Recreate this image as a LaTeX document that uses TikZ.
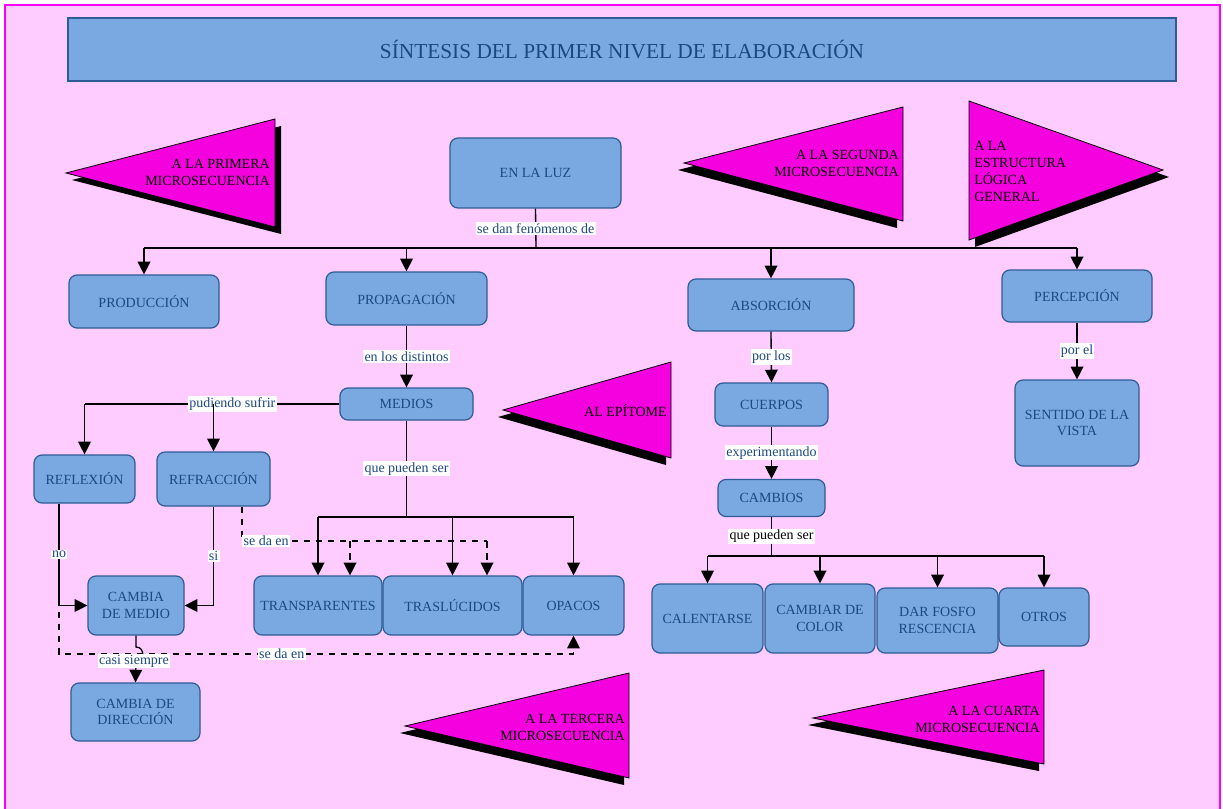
\documentclass[tikz,border=0pt]{standalone}
\usepackage{fontspec}
\setmainfont{Liberation Serif}
\usetikzlibrary{arrows.meta,calc}
\definecolor{pagebg}{RGB}{255,204,255}
\definecolor{pageline}{RGB}{255,0,255}
\definecolor{boxfill}{RGB}{122,169,226}
\definecolor{boxline}{RGB}{45,92,152}
\definecolor{boxtext}{RGB}{28,72,128}
\definecolor{tri}{RGB}{245,0,222}
\begin{document}
\begin{tikzpicture}[x=0.75pt,y=-0.75pt,
  box/.style={draw=boxline, fill=boxfill, rounded corners=6pt, line width=0.9pt,
    text=boxtext, font=\fontsize{10.5}{12.5}\selectfont, align=center, inner sep=2pt},
  sz/.style 2 args={minimum width=#1*0.75pt, minimum height=#2*0.75pt},
  lbl/.style={fill=white, text=boxtext, font=\fontsize{10.5}{12}\selectfont, inner sep=1pt},
  conn/.style={draw=black, line width=1pt},
  arr/.style={conn, -{Triangle[length=9.5pt,width=9.5pt]}},
  dsh/.style={dash pattern=on 5pt off 4pt},
  pennant/.style={fill=tri, draw=black, line width=0.6pt},
  pshadow/.style={fill=black},
  ptext/.style={font=\fontsize{10.5}{12.75}\selectfont, text=black, inner sep=0pt}]
\useasboundingbox (0,0) rectangle (1223,809);
\clip (0,0) rectangle (1223,809);
\fill[white] (0,0) rectangle (1223,809);
\draw[fill=pagebg, draw=pageline, line width=1.2pt] (5,5) rectangle (1220,840);

% heading
\node[box, sz={1108}{63}, rounded corners=0pt, line width=1.1pt,
  font=\fontsize{16}{18}\selectfont] (title) at (622,49.5)
  {SÍNTESIS DEL PRIMER NIVEL DE ELABORACIÓN};

% pennants with their drop shadows
\fill[pshadow] (72,180) -- (281,126) -- (281,234) -- cycle;
\draw[pennant] (66,173) -- (275,119) -- (275,227) -- cycle;
\node[ptext, align=right, anchor=east] (p1) at (270,172.5) {A LA PRIMERA\\MICROSECUENCIA};

\fill[pshadow] (678,170) -- (897,114) -- (897,228) -- cycle;
\draw[pennant] (684,163) -- (903,107) -- (903,221) -- cycle;
\node[ptext, align=right, anchor=east] (p2) at (899,163) {A LA SEGUNDA\\MICROSECUENCIA};

\fill[pshadow] (975,108) -- (1169,177) -- (975,247) -- cycle;
\draw[pennant] (969,101) -- (1163,170) -- (969,240) -- cycle;
\node[ptext, align=left, anchor=west] (p3) at (974,171) {A LA\\ESTRUCTURA\\LÓGICA\\GENERAL};

\fill[pshadow] (498,417) -- (666,369) -- (666,465) -- cycle;
\draw[pennant] (503,410) -- (671,362) -- (671,458) -- cycle;
\node[ptext, anchor=east] (p4) at (667,411) {AL EPÍTOME};

\fill[pshadow] (400,733) -- (624,680) -- (624,785) -- cycle;
\draw[pennant] (405,726) -- (629,673) -- (629,778) -- cycle;
\node[ptext, align=right, anchor=east] (p5) at (625,727) {A LA TERCERA\\MICROSECUENCIA};

\fill[pshadow] (808,725) -- (1039,677) -- (1039,771) -- cycle;
\draw[pennant] (813,718) -- (1044,670) -- (1044,764) -- cycle;
\node[ptext, align=right, anchor=east] (p6) at (1040,719) {A LA CUARTA\\MICROSECUENCIA};

% concept boxes
\node[box, sz={171}{70}] (luz) at (535.5,173) {EN LA LUZ};
\node[box, sz={150}{53}] (prod) at (144,301.5) {PRODUCCIÓN};
\node[box, sz={161}{53}] (prop) at (406.5,298.5) {PROPAGACIÓN};
\node[box, sz={166}{52}] (abs) at (771,305) {ABSORCIÓN};
\node[box, sz={150}{52}] (perc) at (1077,296) {PERCEPCIÓN};
\node[box, sz={133}{32}] (medios) at (406.5,404) {MEDIOS};
\node[box, sz={101}{48}] (reflex) at (84.5,479) {REFLEXIÓN};
\node[box, sz={113}{54}] (refrac) at (213.5,479) {REFRACCIÓN};
\node[box, sz={128}{59}] (trans) at (318,605.5) {TRANSPARENTES};
\node[box, sz={139}{59}] (trasl) at (452.5,605.5) {TRASLÚCIDOS};
\node[box, sz={101}{59}] (opac) at (573.5,605.5) {OPACOS};
\node[box, sz={96}{59}] (cmedio) at (136,605.5) {CAMBIA\\DE MEDIO};
\node[box, sz={129}{58}] (cdir) at (135.5,712) {CAMBIA DE\\DIRECCIÓN};
\node[box, sz={113}{43}] (cuerpos) at (771.5,404.5) {CUERPOS};
\node[box, sz={107}{37}] (cambios) at (771.5,498) {CAMBIOS};
\node[box, sz={111}{69}] (cal) at (707.5,618.5) {CALENTARSE};
\node[box, sz={110}{69}] (ccol) at (820,618.5) {CAMBIAR DE\\COLOR};
\node[box, sz={121}{65}] (fosfo) at (937.5,620.5) {DAR FOSFO\\RESCENCIA};
\node[box, sz={90}{58}] (otros) at (1044,617) {OTROS};
\node[box, sz={124}{86}] (sent) at (1077,423) {SENTIDO DE LA\\VISTA};

% hub points
\coordinate (hub) at (536,248);
\coordinate (pl) at (84.5,404);
\coordinate (mh) at (406.5,517);
\coordinate (ch) at (771.5,556);
\coordinate (rx) at ($(reflex.south)+(-25.5,0)$);
\coordinate (rr) at ($(refrac.south)+(28.5,0)$);

% dashed links
\draw[conn, dsh] (rr) -- (242,541) -- (487,541);
\node[lbl, anchor=west] (sde1) at (242,541) {se da en};
\draw[arr, dsh] (350,541) -- (350,541 |- trans.north);
\draw[arr, dsh] (487,541) -- (487,541 |- trasl.north);
\draw[arr, dsh] (rx) -- (59,654) -- node[lbl, pos=0.433] (sde2) {se da en} (573.5,654) -- (opac.south);

% solid links
\draw[conn] (luz.south) -- node[lbl] (l1) {se dan fenómenos de} (hub);
\draw[conn] (prod.north |- hub) -- (perc.north |- hub);
\draw[arr] (prod.north |- hub) -- (prod.north);
\draw[arr] (prop.north |- hub) -- (prop.north);
\draw[arr] (abs.north |- hub) -- (abs.north);
\draw[arr] (perc.north |- hub) -- (perc.north);

\draw[arr] (prop.south) -- node[lbl] (l2) {en los distintos} (medios.north);
\draw[conn] (medios.west) -- node[lbl, pos=0.42] (l3) {pudiendo sufrir} (pl);
\draw[arr] (pl) -- (reflex.north);
\draw[arr] (refrac.north |- pl) -- (refrac.north);

\draw[conn] (medios.south) -- node[lbl] (l4) {que pueden ser} (mh);
\draw[conn] (trans.north |- mh) -- (opac.north |- mh);
\draw[arr] (trans.north |- mh) -- (trans.north);
\draw[arr] (trasl.north |- mh) -- (trasl.north);
\draw[arr] (opac.north |- mh) -- (opac.north);

\draw[arr] (rx) -- node[lbl] (l5) {no} (59,605.5) -- (cmedio.west);
\draw[arr] (refrac.south) -- node[lbl] (l6) {si} (refrac.south |- cmedio.east) -- (cmedio.east);

% link hopping over the dashed line
\draw[arr] (cmedio.south) -- (136,647) .. controls (145,647) and (145,661) .. (136,661)
  -- node[lbl, pos=0, xshift=-1.5pt] (l7) {casi siempre} (cdir.north);

\draw[arr] (abs.south) -- node[lbl] (l8) {por los} (cuerpos.north);
\draw[arr] (cuerpos.south) -- node[lbl] (l9) {experimentando} (cambios.north);
\draw[conn] (cambios.south) -- node[lbl, text=black] (l10) {que pueden ser} (ch);
\draw[conn] (cal.north |- ch) -- (otros.north |- ch);
\draw[arr] (cal.north |- ch) -- (cal.north);
\draw[arr] (ccol.north |- ch) -- (ccol.north);
\draw[arr] (fosfo.north |- ch) -- (fosfo.north);
\draw[arr] (otros.north |- ch) -- (otros.north);

\draw[arr] (perc.south) -- node[lbl] (l11) {por el} (sent.north);
\end{tikzpicture}
\end{document}
